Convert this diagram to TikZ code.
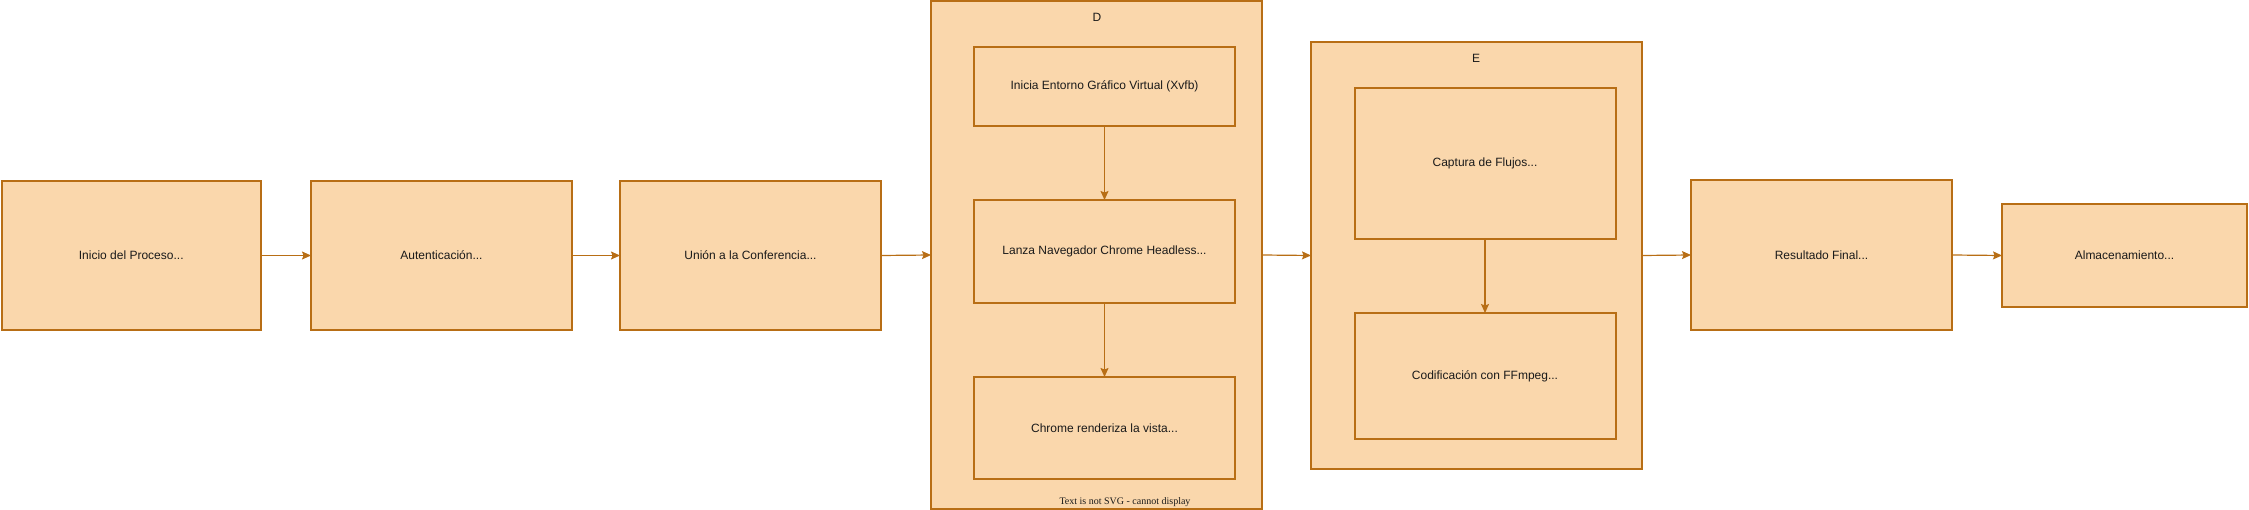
\documentclass[tikz,border=0pt]{standalone}
\usepackage{fontspec}
\setmainfont{Liberation Sans}
\newfontfamily\serifnote{Liberation Serif}
\usetikzlibrary{arrows.meta}
\definecolor{boxfill}{HTML}{FAD7AC}
\definecolor{boxline}{HTML}{B86E15}
\definecolor{txt}{HTML}{1A1A1A}
\tikzset{
  stepbox/.style={draw=boxline, fill=boxfill, line width=2pt, rectangle, inner sep=0pt, outer sep=0pt, align=center, font=\fontsize{12pt}{14pt}\selectfont, text=txt},
  groupbox/.style={stepbox},
  grouplabel/.style={inner sep=0pt, font=\fontsize{12pt}{14pt}\selectfont, text=txt},
  flow/.style={draw=boxline, line width=1.2pt, -{Stealth[length=9pt,width=8pt,inset=1.5pt]}}
}
\begin{document}
\begin{tikzpicture}[x=1pt,y=-1pt]
\useasboundingbox (0,0) rectangle (2249,510);
% containers
\node[groupbox, minimum width=331pt, minimum height=507pt] (D) at (1096.5,255) {};
\node[groupbox, minimum width=331pt, minimum height=427pt] (E) at (1476.5,255.5) {};
\node[grouplabel] (Dlbl) at (1097,17) {D};
\node[grouplabel] (Elbl) at (1476,58) {E};
% main steps
\node[stepbox, minimum width=259.5pt, minimum height=149pt] (A) at (131.25,255.5) {Inicio del Proceso...};
\node[stepbox, minimum width=261pt, minimum height=149pt] (B) at (441.5,255.5) {Autenticación...};
\node[stepbox, minimum width=261pt, minimum height=149pt] (C) at (750.5,255.5) {Unión a la Conferencia...};
\node[stepbox, minimum width=261pt, minimum height=79pt] (D1) at (1104.5,86.5) {Inicia Entorno Gráfico Virtual (Xvfb)};
\node[stepbox, minimum width=261pt, minimum height=103pt] (D2) at (1104.5,251.5) {Lanza Navegador Chrome Headless...};
\node[stepbox, minimum width=261pt, minimum height=102pt] (D3) at (1104.5,428) {Chrome renderiza la vista...};
\node[stepbox, minimum width=261pt, minimum height=151pt] (E1) at (1485,163.5) {Captura de Flujos...};
\node[stepbox, minimum width=261pt, minimum height=126pt] (E2) at (1485,376) {Codificación con FFmpeg...};
\node[stepbox, minimum width=261pt, minimum height=150pt] (F) at (1821.5,255) {Resultado Final...};
\node[stepbox, minimum width=245pt, minimum height=103pt] (G) at (2124.5,255.5) {Almacenamiento...};
\node[inner sep=0pt, font=\serifnote\fontsize{10pt}{12pt}\selectfont, text=txt] (note) at (1125,502) {Text is not SVG - cannot display};
% connectors
\draw[flow] (A.east) -- (B.west);
\draw[flow] (B.east) -- (C.west);
\draw[flow] (C.east) -- (D.west);
\draw[flow] (D1.south) -- (D2.north);
\draw[flow] (D2.south) -- (D3.north);
\draw[flow] (D.east) -- (E.west);
\draw[flow] (E1.south) -- (E2.north);
\draw[flow] (E.east) -- (F.west);
\draw[flow] (F.east) -- (G.west);
\end{tikzpicture}
\end{document}
